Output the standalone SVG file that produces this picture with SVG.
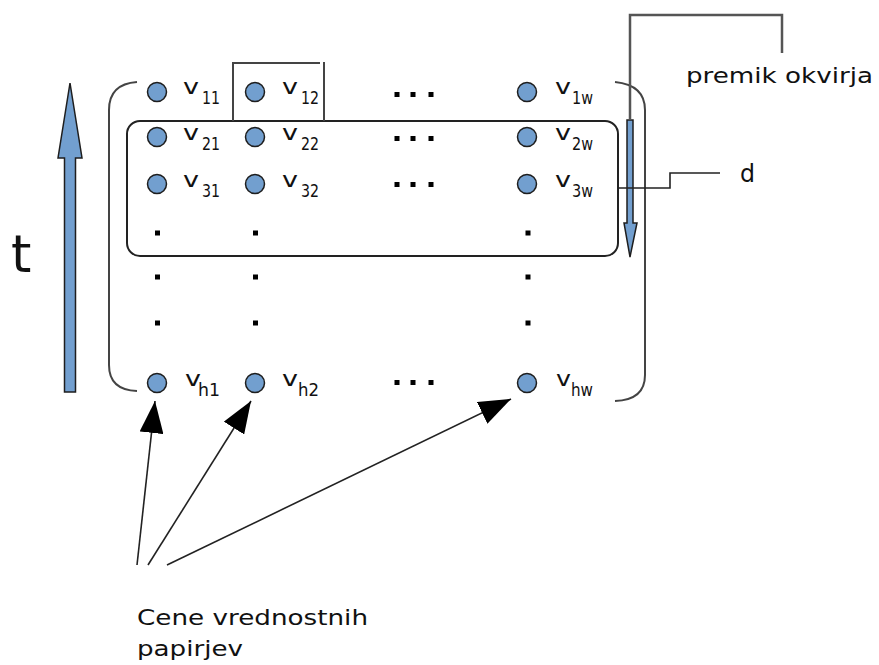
<svg xmlns="http://www.w3.org/2000/svg" width="879" height="665" viewBox="0 0 879 665">
<defs>
<style>
.pt{fill:#729fcf;stroke:#1e1e1e;stroke-width:1.5}
.v{font-family:"DejaVu Sans","Liberation Sans",sans-serif;font-size:21px;fill:#111}
.s{font-family:"DejaVu Sans","Liberation Sans",sans-serif;font-size:17px;fill:#111}
.lbl{font-family:"DejaVu Sans","Liberation Sans",sans-serif;font-size:21px;fill:#111}
.dot{fill:#000}
.br{fill:none;stroke:#444;stroke-width:2}
.ln{fill:none;stroke:#222;stroke-width:1.6}
.conn{fill:none;stroke:#555;stroke-width:2.5}
.blue{fill:#729fcf;stroke:#1e1e1e;stroke-width:1.5}
</style>
<marker id="ah" viewBox="0 0 32 24" refX="32" refY="12" markerWidth="32" markerHeight="24" markerUnits="userSpaceOnUse" orient="auto">
<path d="M0,0 L32,12 L0,24 Z" fill="#000"/>
</marker>
</defs>

<g id="time-arrow">
<polygon class="blue" points="70,83 82,158 75.5,158 75.5,392 64.5,392 64.5,158 58,158"/>
<text class="lbl" x="11" y="272" style="font-size:52px">t</text>
</g>

<g id="matrix-bracket">
<path class="br" d="M137,82 Q109,84 109,110 L109,365 Q109,390 137,391"/>
<path class="br" d="M615,82 Q645,85 645,110 L645,375 Q645,400 615,401"/>
</g>

<g id="window-d">
<rect class="ln" x="127" y="121" width="491" height="135" rx="13" ry="13" style="stroke-width:2"/>
</g>

<g id="v12-box">
<polyline class="br" points="233,121 233,63 320,63"/>
<line class="br" x1="324" y1="62" x2="324" y2="121"/>
</g>

<g id="shift-arrow">
<polygon class="blue" points="627,120 633,120 633,223 637,223 630,257 624,223 627,223"/>
</g>

<g id="row1">
<circle class="pt" cx="157" cy="92" r="9.5"/>
<text class="v" x="183" y="94" textLength="16" lengthAdjust="spacingAndGlyphs">v</text>
<text class="s" x="202" y="104" textLength="18" lengthAdjust="spacingAndGlyphs">11</text>
<circle class="pt" cx="255" cy="92" r="9.5"/>
<text class="v" x="282" y="94" textLength="16" lengthAdjust="spacingAndGlyphs">v</text>
<text class="s" x="301" y="104" textLength="18" lengthAdjust="spacingAndGlyphs">12</text>
<circle class="pt" cx="527" cy="92" r="9.5"/>
<text class="v" x="555" y="94" textLength="16" lengthAdjust="spacingAndGlyphs">v</text>
<text class="s" x="572" y="104" textLength="21" lengthAdjust="spacingAndGlyphs">1w</text>
<rect class="dot" x="394.5" y="92" width="5" height="5"/>
<rect class="dot" x="410.5" y="92" width="5" height="5"/>
<rect class="dot" x="428.5" y="92" width="5" height="5"/>
</g>

<g id="row2">
<circle class="pt" cx="157" cy="137" r="9.5"/>
<text class="v" x="183" y="140" textLength="16" lengthAdjust="spacingAndGlyphs">v</text>
<text class="s" x="202" y="150" textLength="18" lengthAdjust="spacingAndGlyphs">21</text>
<circle class="pt" cx="255" cy="137" r="9.5"/>
<text class="v" x="282" y="140" textLength="16" lengthAdjust="spacingAndGlyphs">v</text>
<text class="s" x="301" y="150" textLength="18" lengthAdjust="spacingAndGlyphs">22</text>
<circle class="pt" cx="527" cy="137" r="9.5"/>
<text class="v" x="555" y="140" textLength="16" lengthAdjust="spacingAndGlyphs">v</text>
<text class="s" x="572" y="150" textLength="21" lengthAdjust="spacingAndGlyphs">2w</text>
<rect class="dot" x="394.5" y="136" width="5" height="5"/>
<rect class="dot" x="410.5" y="136" width="5" height="5"/>
<rect class="dot" x="428.5" y="136" width="5" height="5"/>
</g>

<g id="row3">
<circle class="pt" cx="157" cy="184" r="9.5"/>
<text class="v" x="183" y="187" textLength="16" lengthAdjust="spacingAndGlyphs">v</text>
<text class="s" x="202" y="197" textLength="18" lengthAdjust="spacingAndGlyphs">31</text>
<circle class="pt" cx="255" cy="184" r="9.5"/>
<text class="v" x="282" y="187" textLength="16" lengthAdjust="spacingAndGlyphs">v</text>
<text class="s" x="301" y="197" textLength="18" lengthAdjust="spacingAndGlyphs">32</text>
<circle class="pt" cx="527" cy="184" r="9.5"/>
<text class="v" x="555" y="187" textLength="16" lengthAdjust="spacingAndGlyphs">v</text>
<text class="s" x="572" y="197" textLength="21" lengthAdjust="spacingAndGlyphs">3w</text>
<rect class="dot" x="394.5" y="182" width="5" height="5"/>
<rect class="dot" x="410.5" y="182" width="5" height="5"/>
<rect class="dot" x="428.5" y="182" width="5" height="5"/>
</g>

<g id="vdots">
<rect class="dot" x="155" y="230.5" width="5" height="5"/>
<rect class="dot" x="253" y="230.5" width="5" height="5"/>
<rect class="dot" x="525.5" y="230.5" width="5" height="5"/>
<rect class="dot" x="155" y="274.5" width="5" height="5"/>
<rect class="dot" x="253" y="274.5" width="5" height="5"/>
<rect class="dot" x="525.5" y="274.5" width="5" height="5"/>
<rect class="dot" x="155" y="320.5" width="5" height="5"/>
<rect class="dot" x="253" y="320.5" width="5" height="5"/>
<rect class="dot" x="525.5" y="320.5" width="5" height="5"/>
</g>

<g id="rowh">
<circle class="pt" cx="157" cy="383" r="9.5"/>
<text class="v" x="185" y="386" textLength="16" lengthAdjust="spacingAndGlyphs">v</text>
<text class="s" x="198" y="396" textLength="22" lengthAdjust="spacingAndGlyphs">h1</text>
<circle class="pt" cx="255" cy="383" r="9.5"/>
<text class="v" x="282" y="386" textLength="16" lengthAdjust="spacingAndGlyphs">v</text>
<text class="s" x="298" y="396" textLength="21" lengthAdjust="spacingAndGlyphs">h2</text>
<circle class="pt" cx="527" cy="383" r="9.5"/>
<text class="v" x="556" y="386" textLength="15" lengthAdjust="spacingAndGlyphs">v</text>
<text class="s" x="571" y="396" textLength="22" lengthAdjust="spacingAndGlyphs">hw</text>
<rect class="dot" x="394.5" y="380" width="5" height="5"/>
<rect class="dot" x="410.5" y="380" width="5" height="5"/>
<rect class="dot" x="428.5" y="380" width="5" height="5"/>
</g>

<g id="connectors">
<polyline class="conn" points="630,120 630,15 782,15 782,53"/>
<polyline class="ln" points="618,188 670,188 670,173 720,173"/>
<line class="ln" x1="137" y1="565" x2="155" y2="401" marker-end="url(#ah)"/>
<line class="ln" x1="148" y1="565" x2="251" y2="401" marker-end="url(#ah)"/>
<line class="ln" x1="167" y1="565" x2="511" y2="399" marker-end="url(#ah)"/>
</g>

<g id="label-premik">
<text class="lbl" x="686" y="83" textLength="187" lengthAdjust="spacingAndGlyphs">premik okvirja</text>
</g>
<g id="label-d">
<text class="lbl" x="740" y="182" textLength="15" lengthAdjust="spacingAndGlyphs" style="font-size:24px">d</text>
</g>
<g id="label-cene">
<text class="lbl" x="137" y="625" textLength="231" lengthAdjust="spacingAndGlyphs">Cene vrednostnih</text>
<text class="lbl" x="137" y="656" textLength="106" lengthAdjust="spacingAndGlyphs">papirjev</text>
</g>
</svg>
